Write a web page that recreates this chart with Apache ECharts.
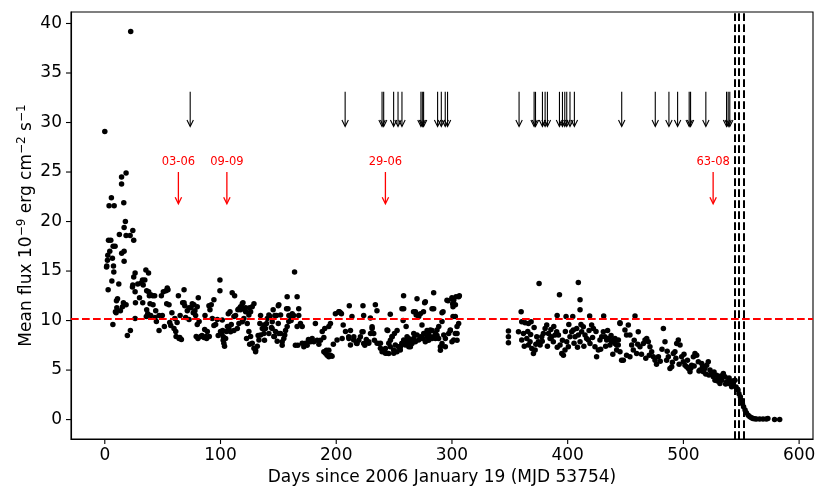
<!DOCTYPE html>
<html><head><meta charset="utf-8">
<script src="https://cdn.jsdelivr.net/npm/echarts@6/dist/echarts.min.js"></script>
<style>html,body{margin:0;padding:0;background:#fff}#c{width:830px;height:498px}</style>
</head><body><div id="c"></div>
<script>
const xTicks=[0,100,200,300,400,500,600];
const yTicks=[0,5,10,15,20,25,30,35,40];
const xRange=[-29.2,612];
const yRange=[-1.96,41.16];
const meanFlux=10.15;
const dashedDays=[544.7,547.9,552.0];
const blackArrowDays=[73.8,207.7,239.6,241.0,249.6,253.4,256.8,273.2,274.4,275.5,287.6,290.8,294.2,296.2,358.0,371.0,372.2,378.2,380.5,382.5,392.9,395.5,397.5,399.2,402.0,405.8,446.7,475.7,487.5,495.0,505.0,506.2,519.4,537.3,538.7,540.1];
const blackArrowFlux=[33.1,29.6];
const redArrowDays=[63.6,105.5,242.5,525.7];
const redArrowLabels=['03-06','09-09','29-06','63-08'];
const redArrowFlux=[25.0,21.8,26.0];

const phase1=[[0,29.1],[1.5,15.4],[1.7,15.5],[2.3,16.1],[2.6,16.6],[2.9,13.1],[3.2,18.1],[3.7,21.6],[4.3,17.0],[5.2,18.1],[5.7,22.4],[6.1,14.0],[6.6,16.3],[7.0,9.6],[7.2,17.5],[7.5,15.5],[7.8,14.9],[8.1,21.6],[8.9,17.5],[9.2,10.9],[9.8,10.8],[10.1,12.0],[10.4,11.3],[11.0,12.2],[12.1,13.7],[12.6,18.7],[13.5,11.0],[14.5,24.5],[14.5,23.8],[14.6,16.8],[15.3,11.4],[16.1,11.8],[16.4,21.9],[16.7,19.4],[16.7,17.0],[16.7,16.0],[17.8,20.0],[18.4,24.9],[18.4,18.6],[18.4,11.6],[19.5,8.5],[21.9,18.6],[22.1,9.0],[22.4,39.2],[23.9,13.4],[24.2,19.1],[24.2,13.6],[25.0,18.1],[25.0,14.4],[26.2,14.8],[26.2,12.9],[26.5,11.8],[26.2,10.2],[28.5,13.7],
[30.0,12.3],[31.4,13.8],[32.6,14.1],[32.8,11.8],[33.2,13.6],[34.6,14.1],[35.5,15.1],[35.9,10.4],[36.2,13.0],[36.2,11.1],[37.1,10.7],[37.8,14.8],[37.9,12.9],[38.5,12.5],[39.1,11.7],[39.7,12.6],[39.7,10.5],[41.4,12.5],[41.7,11.6],[43.1,12.5],[43.4,10.3],[44.0,11.0],[44.6,9.9],[46.9,10.5],[46.9,9.0],[48.9,12.5],[49.7,10.5],[50.6,12.9],[51.5,9.4],[52.9,13.0],[53.5,11.7],[54.0,13.3],[54.6,13.1],[55.5,11.6],[56.1,9.8],[57.0,9.5],[58.0,10.8],[59.8,9.2],[60.5,10.2],[61.3,8.9],[61.6,8.4],[62.5,9.8],[63.6,12.5],[64.2,8.2],[64.8,8.3],[65.1,10.5],[66.2,8.1],[67.3,11.8],[68.5,13.1],[68.5,11.8],[69.1,11.5],[69.9,10.3],[71.3,11.0],[72.8,11.3],[72.8,10.1],[74.5,11.3],[75.6,11.7],[76.4,10.8],[77.0,11.6],[77.9,11.0],[78.5,10.5],[79.0,8.4],[79.9,11.4],[79.9,9.6],[80.5,8.2],[80.8,12.3],[81.5,9.9],[82.8,8.4],[84.0,8.5],[85.7,8.3],[86.3,9.1],[86.6,10.5],[87.4,8.4],[88.0,8.2],[88.6,8.9],[90.0,11.5],[90.3,8.4],[90.9,11.1],[92.0,11.6],[92.9,10.2],[94.3,12.1],[94.3,9.5],[95.8,9.6],[97.2,10.1],[98.0,8.5],
[99.5,14.1],[99.5,13.0],[100.0,8.9],[101.1,8.7],[101.5,10.05],[101.9,9.0],[102.3,8.0],[102.4,8.36],[102.9,7.7],[103.5,7.4],[104.4,8.2],[105.2,8.9],[106.0,9.4],[106.7,10.7],[107.3,9.2],[108.2,10.9],[108.7,8.87],[109.3,9.6],[110.1,12.8],[111.6,10.4],[111.6,9.0],[112.2,12.5],[113.0,10.5],[114.5,9.2],[115.0,11.1],[115.9,11.2],[115.9,9.7],[117.3,11.4],[117.3,11.1],[118.8,11.7],[118.8,9.87],[119.4,11.8],[119.6,11.2],[120.2,10.2],[121.7,10.9],[121.7,11.3],[122.5,8.2],[123.1,9.7],[124.5,8.9],[124.5,10.55],[125.1,11.3],[125.2,7.6],[126.0,8.4],[126.0,10.9],[127.4,7.7],[127.4,11.4],[128.9,7.2],[128.9,11.7],[130.3,7.0],[130.3,6.85],[131.8,7.4],[132.5,8.5],[133.2,8.03],[134.0,9.7],[134.6,10.5],[134.6,8.53],[136.1,9.2],[137.5,8.7],[137.5,9.54],[138.0,8.0],[138.9,9.2],[139.8,9.7],[140.4,10.2],[141.8,8.7],[141.8,10.55],[142.7,10.4],[144.0,9.3],[144.6,9.2],[144.7,9.87],[145.5,11.1],[146.1,8.4],[146.6,8.4],[147.0,10.5],[147.5,8.9],[148.4,10.5],[149.0,7.9],[149.9,11.5],[149.9,9.7]];

const phase2=[[150.4,11.6],[150.4,8.7],[151.9,10.55],[151.9,8.7],[153.3,7.5],[153.3,7.86],[154.7,8.2],[155.5,8.53],[156.2,9.0],[157.1,11.2],[157.6,12.4],[157.6,9.4],[158.3,11.2],[159.0,9.9],[159.1,10.5],[160.5,10.4],[161.0,10.0],[162.0,10.7],[163.3,10.5],[164.0,14.9],[164.7,7.5],[166.2,12.4],[166.2,9.4],[166.8,7.5],[167.6,11.2],[167.6,10.5],[169.1,9.7],[170.6,9.4],[170.6,7.7],[172.0,7.36],[173.5,7.7],[174.9,7.5],[176.0,8.1],[177.8,7.85],[179.2,8.2],[180.6,7.85],[182.0,9.7],[183.5,8.0],[185.0,7.6],[186.4,8.0],[187.9,8.9],[189.3,8.3],[189.3,6.85],[190.1,9.2],[190.7,6.7],[191.5,7.0],[192.1,6.5],[193.6,6.35],[193.6,7.0],[193.6,9.4],[195.0,6.5],[195.0,9.7],[196.4,6.4],[197.5,7.6],[199.3,10.7],[200.7,8.03],[202.2,10.9],[202.7,10.9],[203.7,10.8],[204.5,10.7],[205.1,8.2],[206.0,9.55],[208.0,8.9],[210.8,8.36],[210.9,8.2],[211.3,11.5],[212.3,9.0],[212.3,7.52],[213.6,10.4],[215.1,8.03],[215.2,8.36],[217.5,7.7],[218.0,7.69],[219.5,8.0],[220.9,8.36],[222.3,8.87],[223.1,11.5],[223.2,8.87],[223.7,10.5],[223.7,7.69],[224.7,7.5],[226.0,8.1],[228.1,7.7],[228.1,7.86],[229.5,10.25],[229.6,8.7],[231.0,9.2],[231.0,9.37],[232.4,8.7],[233.0,8.0],[233.8,11.6],[235.2,11.0],[235.3,7.7],[236.7,7.69],[238.2,7.7],[238.2,7.2],[239.6,6.85],[241.1,7.0],[242.5,6.7],[242.5,7.18],[243.9,9.04],[243.9,6.7],[244.5,9.0],[245.4,7.7],[245.4,6.68],[246.7,10.65],[246.8,8.0],[246.7,7.35],[248.2,8.36],[248.3,8.36],[249.6,7.02],[249.7,6.7],[250.3,8.7],[251.1,7.52],[252.5,6.85],[252.6,9.0],[254.0,7.36],[254.0,7.35],[255.4,7.02],[255.5,7.36],[256.8,11.2],[256.8,7.69],[256.9,7.7],[257.8,10.0],[258.2,12.5],[258.3,11.2],[258.3,8.03],[259.7,7.52],[260.4,9.4],[261.2,8.36],[261.2,7.86],[262.6,8.2],[262.7,7.36],[264.1,7.7],[264.1,7.35],[265.5,8.0],[265.5,7.69],[266.8,10.9],[266.9,8.2],[267.0,8.7],[268.4,10.9],[268.4,7.86],[269.1,10.55],[269.8,12.2],[269.8,8.53],[271.2,8.03],[271.3,10.4],[272.7,10.7],[272.7,8.36],[274.1,9.55],[274.1,8.2],[275.0,8.2],[275.4,10.9],[275.6,8.7],[276.4,11.8],[277.0,11.9],[277.0,7.86],[278.5,9.0],[278.5,8.36],[279.9,8.0],[279.9,8.7],[281.3,9.04],[281.4,8.36],[282.8,11.2],[282.8,9.0],[282.8,8.2],[284.2,12.8],[284.2,11.2],[284.2,8.36],[285.7,8.2],[285.7,8.7],[287.1,8.5],[287.1,9.04],[288.5,8.2],[288.6,9.4],[290.0,7.0],[290.0,7.35],[291.4,9.9],[291.4,10.8],[291.4,7.69],[292.3,10.9],[292.9,8.53],[294.3,7.36],[294.3,8.2],[295.7,12.06],[296.6,12.0],[297.2,8.7],[298.6,9.0],[298.6,9.04],[300.0,12.3],[300.0,7.86],[300.1,12.2],[300.6,11.7],[300.9,11.4],[300.9,10.4],[301.5,12.06],[301.5,8.03],[302.9,10.4],[302.9,8.7],[303.0,11.6],[303.5,12.4],[304.4,9.4],[304.4,8.0],[304.4,8.7],[305.8,12.4],[305.8,9.7],[306.4,12.5]];

const phase3=[[348.8,8.95],[348.8,8.36],[348.8,7.76],[357.5,8.87],[359.8,10.9],[360.3,9.88],[360.3,8.03],[361.8,8.7],[362.5,7.4],[363.2,9.78],[364.7,8.19],[365.5,8.9],[366.1,9.7],[366.1,7.52],[367.5,7.86],[368.0,8.6],[368.4,9.88],[369.0,7.18],[370.4,6.68],[371.0,9.3],[371.9,7.02],[372.5,7.6],[373.3,8.36],[374.7,7.86],[375.3,13.75],[376.2,7.52],[377.6,8.36],[378.0,7.9],[379.0,8.7],[380.5,9.2],[381.9,9.54],[382.5,7.4],[383.4,8.7],[384.8,8.19],[385.5,9.1],[386.2,8.36],[387.6,7.86],[388.0,9.4],[389.1,8.53],[390.5,8.87],[390.9,10.5],[391.0,7.3],[392.0,8.53],[392.9,12.6],[393.4,7.52],[394.9,6.68],[395.5,8.0],[396.3,6.51],[397.7,7.02],[398.0,8.9],[398.6,10.4],[399.2,7.86],[400.6,7.35],[401.0,9.6],[402.0,8.36],[403.5,8.87],[404.4,10.4],[404.9,9.04],[405.5,7.7],[406.4,8.36],[407.8,9.2],[408.5,7.3],[409.2,13.85],[409.2,8.53],[410.7,12.1],[410.7,11.1],[410.7,7.86],[411.5,9.6],[412.1,8.87],[413.5,9.37],[414.0,7.4],[415.0,8.53],[416.4,8.19],[417.9,8.03],[418.5,9.0],[419.0,10.45],[419.3,7.69],[420.7,9.54],[421.5,8.3],[422.2,9.2],[423.6,7.35],[424.5,8.9],[425.0,6.34],[426.5,7.02],[427.9,8.03],[428.5,7.1],[429.4,8.36],[430.8,8.87],[431.1,10.45],[432.2,8.36],[432.8,7.4],[433.7,8.03],[434.5,9.0],[435.1,8.19],[436.5,7.52],[437.5,8.5],[438.0,7.86],[439.0,6.6],[439.4,8.03],[440.9,7.69],[440.9,8.2],[442.3,7.02],[442.3,7.52],[443.7,7.52],[443.8,8.03],[445.2,9.7],[445.2,6.85],[445.2,9.77],[446.6,6.0],[448.1,6.0],[449.5,9.04]];

const phase4=[[450.9,6.51],[450.9,8.53],[452.4,9.54],[453.8,6.34],[453.8,8.53],[455.3,7.52],[456.7,7.02],[457.5,8.0],[458.2,10.45],[459.6,6.68],[460.5,7.6],[461.0,8.87],[462.5,7.35],[463.8,6.6],[465.4,7.69],[466.8,8.03],[467.5,6.2],[468.3,8.2],[469.7,7.86],[470.5,6.5],[471.1,7.35],[472.6,6.85],[474.0,6.34],[475.5,6.0],[476.8,5.6],[478.4,6.34],[480.0,5.9],[481.5,7.1],[482.7,9.2],[484.1,7.86],[485.5,6.0],[486.0,6.9],[487.0,6.34],[488.4,5.16],[489.9,5.33],[490.5,5.8],[491.3,6.68],[492.7,6.85],[493.5,6.2],[494.2,7.69],[495.6,8.03],[496.3,5.6],[497.1,7.52],[498.5,6.34],[499.9,5.84],[500.5,6.6],[501.4,5.5],[502.8,5.33],[503.5,6.0],[504.3,5.16],[505.7,4.83],[506.5,5.2],[507.1,5.5],[508.6,6.34],[509.3,5.4],[510.0,6.68],[511.5,6.51],[512.9,5.84],[513.5,4.9],[514.3,5.0],[515.8,5.67],[516.5,5.3],[517.2,4.83],[518.6,5.16],[519.3,4.6],[520.1,5.5],[521.5,5.84],[522.0,4.5],[523.0,5.0],[524.4,4.66],[525.8,4.32],[526.5,4.8],[527.3,3.98],[528.7,4.49],[529.5,3.9],[530.2,4.15],[531.6,3.65],[532.3,4.4],[533.0,3.98],[534.5,4.66],[535.9,4.32],[536.5,3.6],[537.4,3.82],[538.8,3.65],[539.5,4.2],[540.2,3.82],[541.7,3.31],[542.5,3.9],[543.1,3.48],[544.6,3.98],[545.5,3.3],[546.3,3.1]];

const decay=[[547.2,2.98],[548.0,2.6],[549.2,2.3],[550.0,1.97],[551.0,1.6],[552.0,1.3],[553.3,0.96],[554.4,0.7],[556.0,0.45],[557.4,0.28],[558.9,0.18],[560.1,0.12],[561.5,0.08],[563.0,0.06],[565.9,0.06],[568.8,0.06],[571.6,0.05],[573.0,0.1],[578.8,0.02],[583.2,0.02]];

const FONT='DejaVu Sans';
const chart=echarts.init(document.getElementById('c'),null,{renderer:'canvas'});

function arrowRender(color,lw,labels){
  return function(params,api){
    const x=api.value(0);
    const p0=api.coord([x,api.value(1)]);
    const p1=api.coord([x,api.value(2)]);
    const ch=[
      {type:'line',shape:{x1:p0[0],y1:p0[1],x2:p1[0],y2:p1[1]-0.5},style:{stroke:color,lineWidth:lw}},
      {type:'polyline',shape:{points:[[p1[0]-3.2,p1[1]-6.5],[p1[0],p1[1]],[p1[0]+3.2,p1[1]-6.5]]},style:{stroke:color,lineWidth:lw,fill:null}}
    ];
    if(labels){
      const pt=api.coord([x,api.value(3)]);
      ch.push({type:'text',style:{text:labels[params.dataIndex],x:pt[0],y:pt[1],align:'center',verticalAlign:'middle',fill:color,fontSize:11.5,fontFamily:FONT}});
    }
    return {type:'group',children:ch};
  };
}

const dotStyle={type:'scatter',symbol:'circle',symbolSize:5.5,itemStyle:{color:'#000',opacity:1},silent:true,animation:false};
const axisLineStyle={show:true,onZero:false,lineStyle:{color:'#000',width:1.1}};

chart.setOption({
  animation:false,
  backgroundColor:'#fff',
  grid:{left:71,right:17,top:12,bottom:59,show:true,borderColor:'#000',borderWidth:1.1,backgroundColor:'transparent'},
  xAxis:{type:'value',min:xRange[0],max:xRange[1],
    axisLine:axisLineStyle,splitLine:{show:false},axisTick:{show:false},
    axisLabel:{color:'#000',fontSize:17,fontFamily:FONT,margin:8,customValues:xTicks},
    name:'Days since 2006 January 19 (MJD 53754)',nameLocation:'middle',nameGap:30,nameMoveOverlap:false,
    nameTextStyle:{color:'#000',fontSize:17,fontFamily:FONT}},
  yAxis:{type:'value',min:yRange[0],max:yRange[1],
    axisLine:axisLineStyle,splitLine:{show:false},axisTick:{show:false},
    axisLabel:{color:'#000',fontSize:17,fontFamily:FONT,margin:9,customValues:yTicks},
    name:'Mean flux 10{sup|\u22129} erg cm{sup|\u22122} s{sup|\u22121}',nameLocation:'middle',nameGap:33,nameMoveOverlap:false,
    nameTextStyle:{color:'#000',fontSize:17,fontFamily:FONT,lineHeight:22,
      rich:{sup:{fontSize:12,fontFamily:FONT,color:'#000',verticalAlign:'top',lineHeight:22}}}},
  series:[
    Object.assign({},dotStyle,{data:phase1,
      markLine:{silent:true,symbol:'none',animation:false,label:{show:false},z:3,
        data:[{yAxis:meanFlux,lineStyle:{color:'#ff0000',width:2,type:[7.7,3.3]}}]
          .concat(dashedDays.map(d=>({xAxis:d,lineStyle:{color:'#000',width:2,type:[7.7,3.3]}})))}}),
    Object.assign({},dotStyle,{data:phase2}),
    Object.assign({},dotStyle,{data:phase3}),
    Object.assign({},dotStyle,{data:phase4}),
    Object.assign({},dotStyle,{data:decay}),
    {type:'custom',silent:true,animation:false,renderItem:arrowRender('#000',1.1,null),
      data:blackArrowDays.map(d=>[d,blackArrowFlux[0],blackArrowFlux[1]]),encode:{x:0,y:[1,2]}},
    {type:'custom',silent:true,animation:false,renderItem:arrowRender('#ff0000',1.3,redArrowLabels),
      data:redArrowDays.map(d=>[d,redArrowFlux[0],redArrowFlux[1],redArrowFlux[2]]),encode:{x:0,y:[1,2,3]}}
  ]
});

// outward tick marks, positioned through the chart's own axis scales
const tickEls=[];
xTicks.forEach(v=>{
  const p=chart.convertToPixel({gridIndex:0},[v,yRange[0]]);
  tickEls.push({type:'line',silent:true,z:100,shape:{x1:p[0],y1:p[1],x2:p[0],y2:p[1]+5},style:{stroke:'#000',lineWidth:1.1}});
});
yTicks.forEach(v=>{
  const p=chart.convertToPixel({gridIndex:0},[xRange[0],v]);
  tickEls.push({type:'line',silent:true,z:100,shape:{x1:p[0],y1:p[1],x2:p[0]-5,y2:p[1]},style:{stroke:'#000',lineWidth:1.1}});
});
chart.setOption({graphic:tickEls});
</script></body></html>
